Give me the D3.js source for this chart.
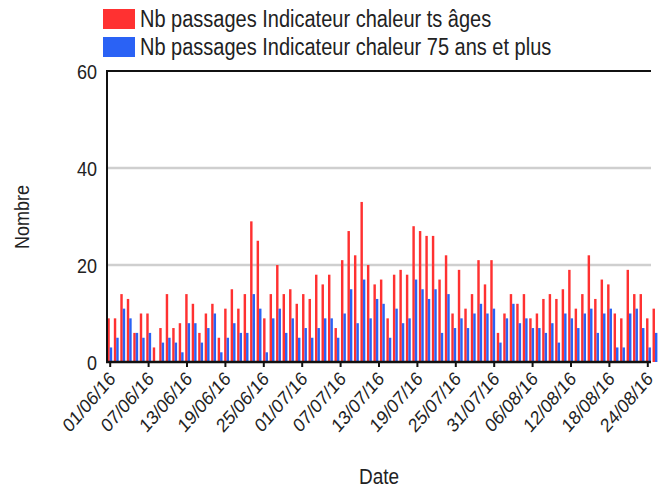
<!DOCTYPE html>
<html><head><meta charset="utf-8">
<script src="https://cdn.jsdelivr.net/npm/d3@7"></script>
<style>body{margin:0;background:#fff}svg{display:block}text{font-family:"Liberation Sans",Arial,sans-serif;fill:#222}</style>
</head><body>
<svg id="c" width="669" height="487"></svg>
<script>
const startDate = "2016-06-01";
const nDays = 85;
const seriesNames = ["Nb passages Indicateur chaleur ts âges", "Nb passages Indicateur chaleur 75 ans et plus"];
const seriesColors = ["#ff3131", "#2a62f5"];
const allAges = [9,9,14,13,6,10,10,3,7,14,7,8,14,12,6,10,12,5,11,15,11,14,29,25,9,14,20,14,15,12,
  14,13,18,16,18,7,21,27,22,33,20,16,17,9,18,19,18,28,27,26,26,17,22,10,19,11,14,21,16,21,
  6,10,14,12,14,9,10,13,14,13,15,19,11,14,22,13,17,16,10,9,19,14,14,9,11];
const age75 = [3,5,11,9,6,5,6,0,4,5,4,2,8,8,4,7,10,2,5,8,6,6,14,11,2,9,11,6,9,5,
  7,5,7,9,9,5,10,15,8,17,9,13,12,5,11,8,9,17,15,13,15,6,14,7,9,7,10,12,10,11,
  4,9,12,8,9,7,7,6,8,4,10,9,7,10,11,6,10,11,3,3,10,11,7,3,6];
const yTicks = [0, 20, 40, 60];
const tickEvery = 6;

const fmt = d3.timeFormat("%d/%m/%y");
const parse = d3.timeParse("%Y-%m-%d");
const d0 = parse(startDate);
const dates = d3.range(nDays).map(i => d3.timeDay.offset(d0, i));
const labels = dates.map(fmt);

const svg = d3.select("#c");
const mLeft = 107, mRight = 651, barRight = 658.7, mTop = 71, mBottom = 362;
const stretch = 1.15;

const y = d3.scaleLinear().domain([0, 60]).range([mBottom, mTop]);
const xTick = d3.scaleBand().domain(labels).range([mLeft, mRight]);
const xBar = d3.scaleBand().domain(labels).range([mLeft, barRight]);
const bw = xBar.bandwidth();
const xSub = d3.scaleBand().domain([0, 1]).range([0.05 * bw, 0.8 * bw]);

function label(parent, x, yy, str, size, anchor, rot, sx, sy) {
  const gg = parent.append("g").attr("transform", `translate(${x},${yy}) scale(${sx || 1},${sy || stretch})` + (rot ? ` rotate(${rot})` : ""));
  gg.append("text").attr("text-anchor", anchor).attr("dy", "0.35em").attr("font-size", size).text(str);
  return gg;
}

// gridlines
svg.append("g").selectAll("line").data(yTicks.filter(v => v > 0 && v < 60)).join("line")
  .attr("x1", mLeft).attr("x2", mRight).attr("y1", d => y(d)).attr("y2", d => y(d))
  .attr("stroke", "#cfcfcf").attr("stroke-width", 2.5);

// bars
const rows = labels.map((l, i) => ({l, v: [allAges[i], age75[i]]}));
const g = svg.append("g");
rows.forEach(r => {
  r.v.forEach((v, s) => {
    if (v <= 0) return;
    g.append("rect").attr("x", xBar(r.l) + xSub(s)).attr("width", xSub.bandwidth())
      .attr("y", y(v)).attr("height", y(0) - y(v)).attr("fill", seriesColors[s]);
  });
});

// axes lines
svg.append("line").attr("x1", mLeft).attr("x2", mLeft).attr("y1", mTop).attr("y2", mBottom + 1)
  .attr("stroke", "#111").attr("stroke-width", 2);
svg.append("line").attr("x1", mLeft - 1).attr("x2", mRight).attr("y1", mTop).attr("y2", mTop)
  .attr("stroke", "#111").attr("stroke-width", 2);
svg.append("line").attr("x1", mLeft - 1).attr("x2", mRight).attr("y1", mBottom).attr("y2", mBottom)
  .attr("stroke", "#111").attr("stroke-width", 2.5);

// y labels
const gy = svg.append("g");
yTicks.forEach(v => label(gy, 97, y(v) + 1, v, 18, "end"));

// x ticks + labels
const tl = labels.filter((l, i) => i % tickEvery === 0);
svg.append("g").selectAll("line").data(tl).join("line")
  .attr("x1", d => xTick(d) + xTick.bandwidth() / 2).attr("x2", d => xTick(d) + xTick.bandwidth() / 2)
  .attr("y1", mBottom).attr("y2", mBottom + 5).attr("stroke", "#111").attr("stroke-width", 2);
const gx = svg.append("g");
tl.forEach(d => label(gx, xTick(d) + xTick.bandwidth() / 2 + 2, mBottom + 13, d, 17, "end", -45));

// axis titles
label(svg, 379, 476, "Date", 19, "middle");
label(svg, 22, 217, "Nombre", 18, "middle", -90, stretch, 1);

// legend
const lg = svg.append("g");
seriesNames.forEach((n, i) => {
  lg.append("rect").attr("x", 103).attr("y", 9 + i * 28).attr("width", 32).attr("height", 20).attr("fill", seriesColors[i]);
  label(lg, 140, 19 + i * 28, n, 20, "start");
});
</script>
</body></html>
